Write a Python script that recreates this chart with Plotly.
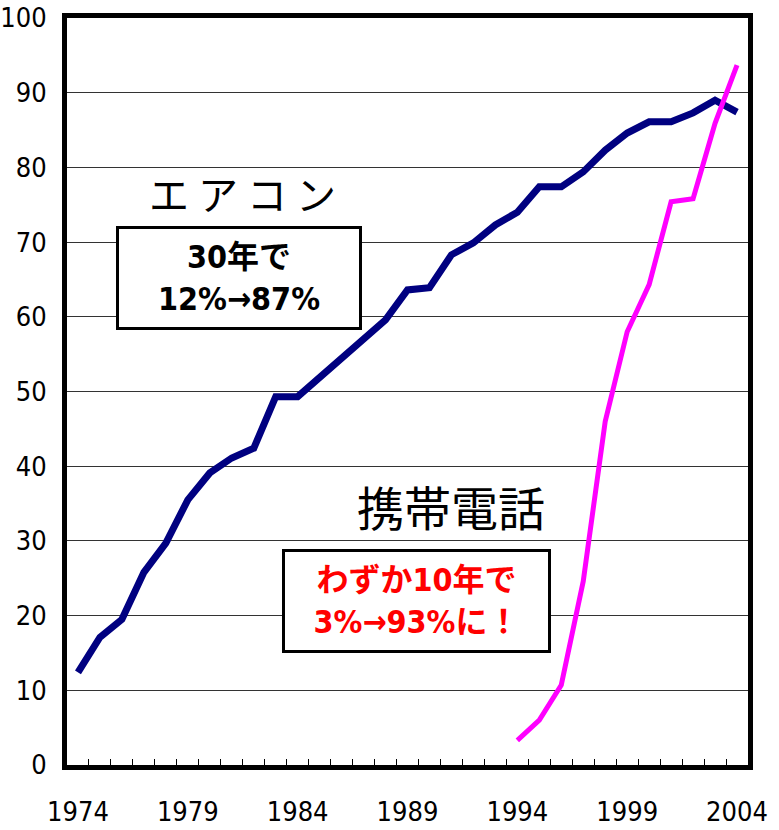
import plotly.graph_objects as go

years = list(range(1974, 2005))
aircon = [12.4, 17.1, 19.5, 25.8, 29.7, 35.5, 39.1, 41.1, 42.4, 49.3, 49.3, 51.9,
          54.4, 56.9, 59.6, 63.6, 63.9, 68.3, 69.9, 72.3, 74.0, 77.4, 77.4, 79.4,
          82.3, 84.6, 86.1, 86.1, 87.3, 89.0, 87.4]
mobile_years = list(range(1994, 2005))
mobile = [3.3, 6.0, 10.7, 24.6, 46.0, 58.0, 64.3, 75.4, 75.8, 85.9, 93.7]
x_labels = [1974, 1979, 1984, 1989, 1994, 1999, 2004]
y_ticks = [0, 10, 20, 30, 40, 50, 60, 70, 80, 90, 100]

NUM_FONT = "DejaVu Sans Condensed, DejaVu Sans, sans-serif"
JP_FONT = "Noto Sans CJK JP, sans-serif"
MIX_FONT = "DejaVu Sans Condensed, Noto Sans CJK JP, sans-serif"

fig = go.Figure()
fig.add_trace(go.Scatter(x=years, y=aircon, mode="lines",
                         line=dict(color="#000080", width=7), name="エアコン"))
fig.add_trace(go.Scatter(x=mobile_years, y=mobile, mode="lines",
                         line=dict(color="#FF00FF", width=5), name="携帯電話"))

fig.update_layout(
    width=779, height=830,
    margin=dict(l=67, r=31, t=18, b=65, autoexpand=False),
    paper_bgcolor="white", plot_bgcolor="white",
    showlegend=False,
    xaxis=dict(range=[1973.5, 2004.5], tickmode="array", tickvals=x_labels,
               ticktext=[str(v) for v in x_labels], ticks="",
               showgrid=False, zeroline=False, automargin=False,
               showline=True, linecolor="black", linewidth=5, mirror=True,
               tickfont=dict(family=NUM_FONT, size=27, color="black"),
               ticklabelstandoff=19,
               minor=dict(tickmode="array",
                          tickvals=[y + 0.5 for y in years[:-1]],
                          ticks="inside", ticklen=6, tickwidth=1,
                          tickcolor="black", showgrid=False)),
    yaxis=dict(range=[0, 100], tickmode="array", tickvals=y_ticks,
               ticks="", showgrid=True, gridcolor="#333333", gridwidth=1,
               zeroline=False, automargin=False,
               showline=True, linecolor="black", linewidth=5, mirror=True,
               tickfont=dict(family=NUM_FONT, size=27, color="black"),
               ticklabelstandoff=10),
)

fig.add_annotation(x=1981.47, y=76.6, xref="x", yref="y",
                   text="エ ア コ ン", showarrow=False,
                   font=dict(family=JP_FONT, size=40, color="black"))
fig.add_annotation(x=1981.35, y=65.26, xref="x", yref="y",
                   text="30年で<br>12%→87%", showarrow=False,
                   font=dict(family=MIX_FONT, size=32, color="black", weight="bold"),
                   bgcolor="white", bordercolor="black", borderwidth=3,
                   borderpad=0, width=240, height=98, align="center")
fig.add_annotation(x=1990.98, y=34.7, xref="x", yref="y",
                   text="携帯電話", showarrow=False,
                   font=dict(family=JP_FONT, size=47, color="black"))
fig.add_annotation(x=1989.43, y=22.0, xref="x", yref="y",
                   text="わずか10年で<br>3%→93%に！", showarrow=False,
                   font=dict(family=MIX_FONT, size=32, color="#FF0000", weight="bold"),
                   bgcolor="white", bordercolor="black", borderwidth=3,
                   borderpad=0, width=263, height=98, align="center")

fig.write_html("out.html")
